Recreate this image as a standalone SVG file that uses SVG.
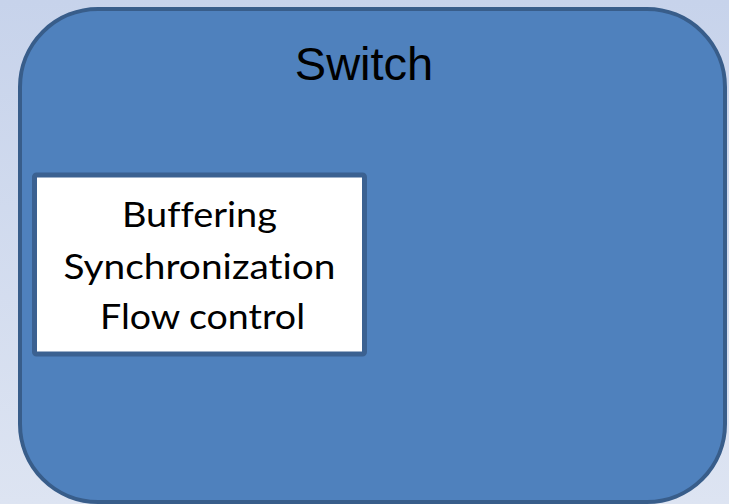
<svg xmlns="http://www.w3.org/2000/svg" width="729" height="504" viewBox="0 0 729 504">
  <defs>
    <linearGradient id="bg" x1="0" y1="0" x2="0" y2="1">
      <stop offset="0" stop-color="#c7d3eb"/>
      <stop offset="1" stop-color="#dde4f2"/>
    </linearGradient>
    <style>
      .outer { fill: #4f81bd; stroke: #385d8a; stroke-width: 4; }
      .inner { fill: #ffffff; stroke: #3b6191; stroke-width: 5; }
      .title { font-family: "Liberation Sans", Arial, sans-serif; font-size: 47px; fill: #000000; text-anchor: middle; }
      .label { font-family: Lato, "Open Sans", sans-serif; font-size: 35px; fill: #000000; text-anchor: middle; font-variant-ligatures: none; }
    </style>
  </defs>

  <!-- page background -->
  <rect x="0" y="0" width="729" height="504" fill="url(#bg)"/>

  <!-- switch container -->
  <g id="switch">
    <rect class="outer" x="20" y="9" width="705" height="493" rx="78" ry="78"/>
    <text class="title" x="364" y="80">Switch</text>
  </g>

  <!-- functions block -->
  <g id="functions">
    <rect class="inner" x="34.5" y="175" width="330" height="179" rx="2" ry="2"/>
    <text class="label" x="199.5" y="227" textLength="155" lengthAdjust="spacingAndGlyphs">Buffering</text>
    <text class="label" x="199.5" y="279" textLength="272" lengthAdjust="spacingAndGlyphs">Synchronization</text>
    <text class="label" x="202.5" y="329" textLength="205" lengthAdjust="spacingAndGlyphs">Flow control</text>
  </g>

  <g id="connectors"/>
</svg>
